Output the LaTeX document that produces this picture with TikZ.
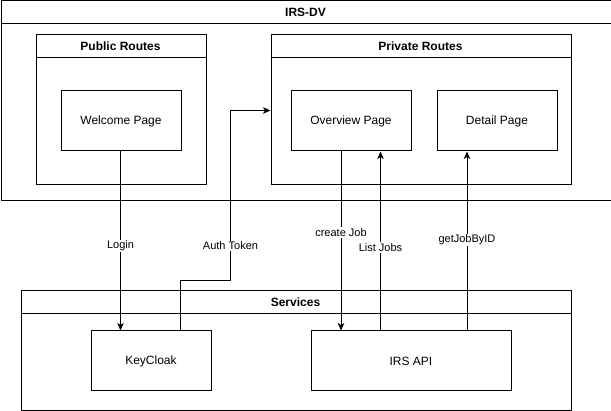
\documentclass[tikz,border=0pt]{standalone}
\usepackage{fontspec}
\setmainfont{Liberation Sans}
\usetikzlibrary{arrows.meta}
\begin{document}
\begin{tikzpicture}[x=1pt,y=-1pt,
  box/.style={draw=black,line width=1pt,fill=white,rectangle,inner sep=0pt,anchor=north west,font=\fontsize{12}{14}\selectfont},
  ttl/.style={font=\fontsize{12}{14}\selectfont\bfseries,inner sep=0pt},
  conn/.style={draw=black,line width=1pt,-{Stealth[length=7.5pt,width=6.5pt,inset=2pt]}},
  lbl/.style={fill=white,inner sep=1pt,font=\fontsize{11}{13}\selectfont}]
\useasboundingbox (0,0) rectangle (611,411);
% IRS-DV
\node[box,minimum width=610pt,minimum height=200pt] (irsdv) at (0.5,0.5) {};
\draw[line width=1pt] (0.5,23.5) -- (610.5,23.5);
\node[ttl] (irsdvt) at (305.5,12.5) {IRS-DV};
% Public routes
\node[box,minimum width=170pt,minimum height=150pt] (pub) at (35.5,34.5) {};
\draw[line width=1pt] (35.5,57.5) -- (205.5,57.5);
\node[ttl] (pubt) at (120.5,46) {Public Routes};
\node[box,minimum width=120pt,minimum height=60pt] (welcome) at (60.5,90.5) {};
\node[font=\fontsize{12}{14}\selectfont] (welcomet) at (welcome.center) {Welcome Page};
% Private routes
\node[box,minimum width=300pt,minimum height=150pt] (priv) at (270.5,34.5) {};
\draw[line width=1pt] (270.5,57.5) -- (570.5,57.5);
\node[ttl] (privt) at (420.5,46) {Private Routes};
\node[box,minimum width=120pt,minimum height=60pt] (overview) at (290.5,90.5) {};
\node[font=\fontsize{12}{14}\selectfont] (overviewt) at (overview.center) {Overview Page};
\node[box,minimum width=120pt,minimum height=60pt] (detail) at (436.5,90.5) {};
\node[font=\fontsize{12}{14}\selectfont] (detailt) at (detail.center) {Detail Page};
% Services
\node[box,minimum width=550pt,minimum height=120pt] (serv) at (20.5,290.5) {};
\draw[line width=1pt] (20.5,313.5) -- (570.5,313.5);
\node[ttl] (servt) at (295.5,302) {Services};
\node[box,minimum width=120pt,minimum height=60pt] (kc) at (90.5,330.5) {};
\node[font=\fontsize{12}{14}\selectfont] (kct) at (kc.center) {KeyCloak};
\node[box,minimum width=200pt,minimum height=60pt] (api) at (310.5,330.5) {};
\node[font=\fontsize{12}{14}\selectfont] (apit) at (api.center) {IRS API};
% coordinates
\coordinate (a1) at (180.5,280.5);
\coordinate (a2) at (230.5,280.5);
\coordinate (a3) at (230.5,110.5);
% connectors
\draw[conn] (welcome.south -| 120.5,0) -- (kc.north -| 120.5,0);
\node[lbl] (login) at (120.5,246) {Login};
\draw[conn] (kc.north -| 180.5,0) -- (a1) -- (a2) -- (a3) -- (a3 -| priv.west);
\node[lbl] (auth) at (230.5,246) {Auth Token};
\draw[conn] (overview.south -| 341,0) -- (api.north -| 341,0);
\node[lbl] (create) at (341,232.5) {create Job};
\draw[conn] (api.north -| 380.5,0) -- (overview.south -| 380.5,0);
\node[lbl] (list) at (380.5,247.5) {List Jobs};
\draw[conn] (api.north -| 467,0) -- (detail.south -| 467,0);
\node[lbl] (getj) at (467,240) {getJobByID};
\end{tikzpicture}
\end{document}
